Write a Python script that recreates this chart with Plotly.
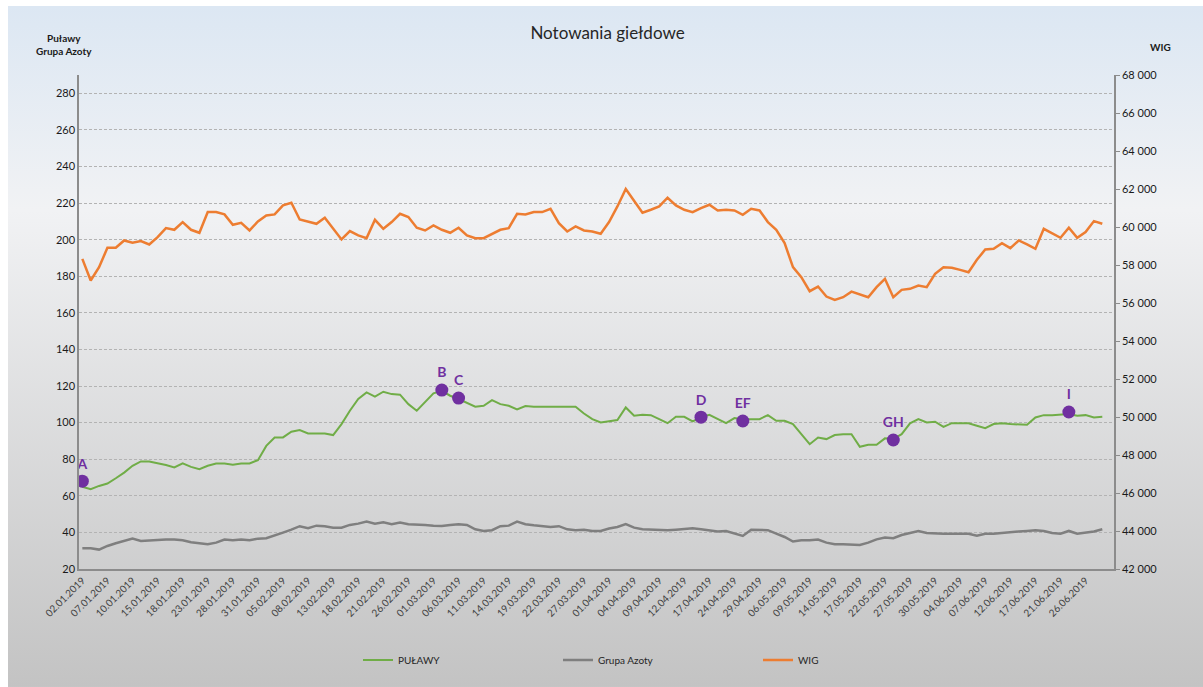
import base64

import pandas as pd
import plotly.graph_objects as go

# trading days of the Warsaw exchange, 1st half of 2019
holidays = ["2019-01-01", "2019-04-19", "2019-04-22", "2019-05-01", "2019-05-03", "2019-06-20"]
days = [d for d in pd.bdate_range("2019-01-02", "2019-06-28") if d.strftime("%Y-%m-%d") not in holidays]
dates = [d.strftime("%d.%m.%Y") for d in days]

pulawy = [
    65.0, 63.6, 65.4, 66.7, 69.6, 72.7, 76.4, 78.8, 78.8, 78.0,
    76.8, 75.5, 77.7, 75.8, 74.6, 76.4, 77.7, 77.7, 77.0, 77.7,
    77.7, 79.5, 87.3, 91.9, 91.9, 95.0, 95.9, 94.1, 94.1, 94.1,
    93.2, 99.2, 106.5, 112.9, 116.5, 114.2, 116.9, 115.6, 115.3, 110.1,
    106.5, 111.1, 116.0, 117.4, 114.7, 112.9, 110.7, 108.7, 109.2, 112.3,
    110.1, 109.2, 107.2, 109.1, 108.7, 108.7, 108.7, 108.7, 108.7, 108.7,
    105.0, 101.9, 100.1, 100.7, 101.4, 108.3, 103.8, 104.3, 104.1, 101.9,
    99.7, 103.2, 103.2, 100.7, 102.8, 104.3, 101.9, 99.7, 102.5, 101.9,
    101.9, 101.9, 104.1, 101.0, 101.0, 99.2, 93.7, 88.2, 91.9, 91.0,
    93.2, 93.7, 93.7, 86.8, 87.9, 87.9, 91.4, 91.0, 93.7, 99.6,
    101.9, 100.1, 100.5, 97.7, 99.7, 99.7, 99.6, 98.3, 97.0, 99.2,
    99.7, 99.2, 98.8, 98.8, 102.8, 104.1, 104.1, 104.3, 104.7, 103.8,
    104.1, 102.8, 103.2,
]

azoty = [
    31.3, 31.3, 30.6, 32.6, 34.1, 35.3, 36.6, 35.3, 35.7, 35.9,
    36.1, 36.1, 35.7, 34.6, 34.2, 33.5, 34.4, 36.1, 35.7, 36.1,
    35.7, 36.6, 36.8, 38.2, 39.9, 41.5, 43.4, 42.3, 43.7, 43.4,
    42.6, 42.6, 44.1, 44.8, 45.9, 44.8, 45.5, 44.5, 45.4, 44.5,
    44.5, 44.1, 43.7, 43.5, 44.1, 44.5, 44.1, 41.7, 40.8, 41.2,
    43.4, 43.7, 45.9, 44.5, 43.9, 43.4, 43.0, 43.4, 41.7, 41.2,
    41.5, 40.8, 40.8, 42.1, 43.0, 44.5, 42.6, 41.7, 41.5, 41.5,
    41.2, 41.5, 42.1, 42.3, 41.7, 41.2, 40.5, 40.8, 39.3, 38.1,
    41.5, 41.5, 41.2, 39.3, 37.5, 35.0, 35.7, 35.7, 36.1, 34.4,
    33.5, 33.5, 33.5, 33.1, 34.4, 36.2, 37.2, 36.8, 38.6, 39.7,
    40.8, 39.7, 39.3, 39.3, 39.3, 39.3, 39.3, 38.2, 39.3, 39.3,
    39.7, 40.5, 40.5, 40.8, 41.2, 40.8, 39.7, 39.3, 40.8, 39.3,
    39.9, 40.5, 41.7,
]

wig = [
    58325, 57183, 57886, 58905, 58905, 59291, 59168, 59256, 59080, 59467,
    59941, 59853, 60258, 59853, 59695, 60785, 60785, 60662, 60117, 60222,
    59818, 60293, 60609, 60662, 61136, 61277, 60398, 60293, 60170, 60486,
    59906, 59344, 59783, 59555, 59414, 60380, 59906, 60258, 60697, 60521,
    59959, 59818, 60082, 59853, 59695, 59959, 59555, 59414, 59414, 59643,
    59853, 59941, 60697, 60662, 60785, 60785, 60960, 60205, 59766, 60029,
    59818, 59766, 59643, 60258, 61083, 62000, 61364, 60749, 60908, 61083,
    61540, 61136, 60908, 60785, 60995, 61171, 60872, 60908, 60872, 60644,
    60960, 60872, 60258, 59853, 59151, 57886, 57358, 56621, 56866, 56339,
    56164, 56304, 56600, 56445, 56304, 56831, 57271, 56304, 56691, 56744,
    56919, 56831, 57534, 57886, 57850, 57745, 57622, 58272, 58817, 58852,
    59151, 58887, 59291, 59080, 58852, 59906, 59678, 59432, 59959, 59432,
    59730, 60310, 60170,
]

# event markers on the Puławy line
event_labels = ["A", "B", "C", "D", "EF", "GH", "I"]
event_days = [0, 43, 45, 74, 79, 97, 118]
event_values = [68.0, 117.8, 113.4, 103.0, 100.9, 90.5, 105.8]

tick_idx = list(range(0, len(dates), 3))[:41]

FONT = "Lato, 'Open Sans', sans-serif"

svg = ('<svg xmlns="http://www.w3.org/2000/svg" width="100" height="100" viewBox="0 0 100 100" '
       'preserveAspectRatio="none"><defs><linearGradient id="g" x1="0" y1="0" x2="0" y2="1">'
       '<stop offset="0" stop-color="#dce7f3"/><stop offset="0.3" stop-color="#f1f2f4"/>'
       '<stop offset="1" stop-color="#c3c3c3"/></linearGradient></defs>'
       '<rect width="100" height="100" fill="url(#g)"/></svg>')
bg = "data:image/svg+xml;base64," + base64.b64encode(svg.encode()).decode()

fig = go.Figure()

fig.add_trace(go.Scatter(x=dates, y=pulawy, mode='lines', name='PUŁAWY',
                         line=dict(color='#70ad47', width=2)))
fig.add_trace(go.Scatter(x=dates, y=azoty, mode='lines', name='Grupa Azoty',
                         line=dict(color='#7f7f7f', width=2.5)))
fig.add_trace(go.Scatter(x=dates, y=wig, mode='lines', name='WIG', yaxis='y2',
                         line=dict(color='#ed7d31', width=2.5)))
fig.add_trace(go.Scatter(x=[dates[i] for i in event_days], y=event_values,
                         mode='markers+text', text=[f"<b>{t}</b>" for t in event_labels],
                         textposition='top center',
                         textfont=dict(color='#7030a0', size=14, family=FONT),
                         marker=dict(color='#7030a0', size=13), showlegend=False))


def px(x, y):
    # pixel position -> paper coordinates of the plot area
    return (x - 79) / 1035, (569 - y) / 494


ax1, ay1 = px(64, 45)
ax2, ay2 = px(1160, 47)
lx, ly = px(358, 660)

fig.update_layout(
    width=1203, height=687,
    margin=dict(l=79, r=89, t=75, b=118),
    paper_bgcolor='white',
    plot_bgcolor='rgba(0,0,0,0)',
    separators=', ',
    font=dict(family=FONT, color='#1a1a1a'),
    title=dict(text='Notowania giełdowe', x=0.505, xref='container', y=0.952,
               yanchor='middle', font=dict(size=17, color='#262626')),
    xaxis=dict(type='category', range=[-0.4, 123.4], tickmode='array',
               tickvals=[dates[i] for i in tick_idx], ticktext=[dates[i] for i in tick_idx],
               tickangle=-45, tickfont=dict(size=10, color='#404040'),
               showline=True, linecolor='#8c8c8c', linewidth=1.5, showgrid=False),
    yaxis=dict(range=[20, 290], tick0=20, dtick=20, showline=True, linecolor='#8c8c8c',
               linewidth=1.5, gridcolor='#b3b3b3', griddash='3px,2px', gridwidth=1,
               zeroline=False, tickfont=dict(size=11)),
    yaxis2=dict(range=[42000, 68000], tick0=42000, dtick=2000, overlaying='y', side='right',
                tickformat=',d', showline=True, linecolor='#8c8c8c', linewidth=1.5,
                ticks='outside', ticklen=4, tickcolor='#8c8c8c', showgrid=False,
                zeroline=False, tickfont=dict(size=11)),
    legend=dict(orientation='h', x=lx, xanchor='left', y=ly, yanchor='middle',
                entrywidth=155, entrywidthmode='pixels', bgcolor='rgba(0,0,0,0)',
                font=dict(size=10, color='#262626')),
    images=[dict(source=bg, xref='paper', yref='paper', x=-0.0686, y=1.1397,
                 sizex=1.1546, sizey=1.3785, sizing='stretch', xanchor='left',
                 yanchor='top', layer='below')],
    annotations=[
        dict(text='<b>Puławy</b><br><b>Grupa Azoty</b>', x=ax1, y=ay1, xref='paper', yref='paper',
             xanchor='center', yanchor='middle', showarrow=False,
             font=dict(size=10, color='#1a1a1a')),
        dict(text='<b>WIG</b>', x=ax2, y=ay2, xref='paper', yref='paper',
             xanchor='center', yanchor='middle', showarrow=False,
             font=dict(size=10, color='#1a1a1a')),
    ],
)

fig.write_html("out.html", config={'displayModeBar': False},
               post_script="document.body.style.margin='0';")
